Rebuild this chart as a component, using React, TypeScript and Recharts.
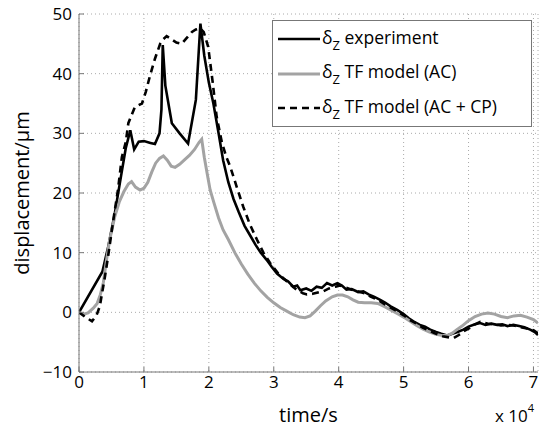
import { LineChart, Line, XAxis, YAxis, CartesianGrid, Legend } from 'recharts';

// time in units of 1e4 s, displacement in µm
const expTime = [
  0, 0.36, 0.45, 0.55, 0.65, 0.72, 0.79, 0.85, 0.92, 1.0, 1.1, 1.17, 1.24, 1.27, 1.29, 1.33,
  1.43, 1.55, 1.68, 1.8, 1.87, 1.93, 2.0, 2.07, 2.15, 2.22, 2.3, 2.38, 2.46, 2.55, 2.63, 2.72,
  2.8, 2.89, 2.97, 3.05, 3.15, 3.22, 3.3, 3.36, 3.41, 3.5, 3.58, 3.66, 3.74, 3.82, 3.9, 3.98,
  4.05, 4.12, 4.2, 4.3, 4.38, 4.46, 4.55, 4.64, 4.72, 4.8, 4.9, 5.0, 5.08, 5.15, 5.25, 5.33,
  5.41, 5.5, 5.58, 5.67, 5.75, 5.83, 5.92, 6.0, 6.1, 6.18, 6.26, 6.35, 6.44, 6.52, 6.6, 6.69,
  6.78, 6.86, 6.95, 7.02, 7.07,
];
const expDisp = [
  0, 6.8, 11, 16.5, 23, 27.5, 30.5, 27.3, 28.6, 28.7, 28.4, 28.2, 30, 34, 44.8, 38,
  31.7, 30, 28.3, 35.6, 48.4, 43, 38.5, 35, 30, 25.5, 21.8, 19, 16.8, 14.5, 13, 11.3,
  10, 8.8, 7.6, 6.5, 5.6, 5.2, 4.3, 4.5, 3.7, 4, 3.6, 4.3, 4.1, 4.9, 4.5, 4.9,
  4.5, 3.8, 3.9, 3.4, 3.5, 3.0, 2.6, 2.1, 1.6, 1.0, 0.4, -0.3, -1.0, -1.5, -2.1, -2.4,
  -2.9, -3.3, -3.6, -3.9, -3.6, -3.3, -2.9, -2.4, -2.0, -1.8, -2.1, -1.9, -2.1, -2.0, -2.3, -2.1,
  -2.3, -2.5, -2.9, -3.3, -3.8,
];

const acTime = [
  0, 0.07, 0.14, 0.22, 0.28, 0.33, 0.375, 0.42, 0.47, 0.55, 0.62, 0.69, 0.76, 0.81, 0.87, 0.94,
  1.0, 1.06, 1.12, 1.18, 1.24, 1.3, 1.36, 1.42, 1.48, 1.55, 1.62, 1.7, 1.78, 1.85, 1.89, 1.93,
  1.97, 2.02, 2.08, 2.15, 2.22, 2.3, 2.4, 2.5, 2.6, 2.7, 2.8, 2.9, 3.0, 3.1, 3.2, 3.3,
  3.4, 3.48, 3.56, 3.64, 3.72, 3.8, 3.9, 3.98, 4.06, 4.14, 4.22, 4.3, 4.4, 4.5, 4.6, 4.7,
  4.8, 4.9, 5.0, 5.1, 5.2, 5.3, 5.4, 5.5, 5.6, 5.67, 5.75, 5.82, 5.9, 6.0, 6.1, 6.2,
  6.3, 6.4, 6.5, 6.6, 6.7, 6.8, 6.9, 7.0, 7.07,
];
const acDisp = [
  0, -0.3, -0.1, 0.7, 1.5, 3, 5, 8.5, 12, 16, 18.5, 20.2, 21.5, 21.9, 21, 20.5,
  20.8, 21.8, 23.5, 25, 25.8, 26.2, 25.5, 24.5, 24.3, 24.8, 25.5, 26.3, 27.3, 28.5, 29, 26,
  23.5, 20.5, 18.3, 15.8, 13.8, 12.2, 10, 8.1, 6.4, 4.9, 3.6, 2.5, 1.6, 0.8, 0.2, -0.4,
  -0.8, -0.9, -0.6, 0.2, 1.1, 1.9, 2.6, 2.9, 2.9, 2.6, 2.1, 1.7, 1.6, 1.6, 1.5, 1.0,
  0.4, -0.2, -0.8, -1.5, -2.2, -2.8, -3.3, -3.7, -3.9, -3.9, -3.5, -2.9, -2.3, -1.4, -0.7, -0.3,
  -0.1, -0.3, -0.7, -0.9, -0.6, -0.5, -0.8, -1.2, -1.8,
];

const cpTime = [
  0, 0.1, 0.2, 0.27, 0.32, 0.36, 0.4, 0.45, 0.5, 0.55, 0.6, 0.66, 0.72, 0.76, 0.86, 0.97,
  1.03, 1.09, 1.17, 1.25, 1.3, 1.35, 1.42, 1.5, 1.58, 1.66, 1.74, 1.8, 1.86, 1.92, 1.99, 2.06,
  2.12, 2.2, 2.27, 2.33, 2.43, 2.53, 2.63, 2.74, 2.84, 2.94, 3.07, 3.2, 3.35, 3.45, 3.51, 3.6,
  3.7, 3.76, 3.85, 3.95, 4.02, 4.1, 4.2, 4.3, 4.4, 4.5, 4.6, 4.7, 4.8, 4.9, 5.0, 5.1,
  5.2, 5.3, 5.4, 5.5, 5.6, 5.7, 5.77, 5.85, 5.92, 6.02, 6.1, 6.18, 6.3, 6.4, 6.5, 6.6,
  6.7, 6.8, 6.9, 7.0, 7.07,
];
const cpDisp = [
  0, -0.8, -1.5, -0.5, 1, 3.5, 6, 9.5, 13.3, 17, 20.5, 26, 28.5, 31.7, 34.4, 35,
  37, 39.5, 42.5, 45, 45.8, 46.3, 45.8, 45.2, 45, 46, 47, 47.4, 47.6, 47, 44.5, 38.5,
  32.8, 28.5, 26, 24.4, 21, 17.7, 14.8, 12.2, 10, 8.3, 6.5, 5.2, 3.8, 3.2, 3.0, 3.1,
  3.4, 3.5, 4.0, 4.3, 4.5, 4.2, 3.8, 3.5, 3.2, 2.6, 2.1, 1.4, 0.8, 0.2, -0.5, -1.3,
  -1.9, -2.6, -3.1, -3.6, -4.0, -4.2, -4.3, -3.8, -3.2, -2.6, -2.0, -1.6, -1.9, -2.0, -2.2, -2.1,
  -2.2, -2.5, -2.7, -3.0, -3.5,
];

const xTicks = [0, 1, 2, 3, 4, 5, 6, 7];
const yTicks = [-10, 0, 10, 20, 30, 40, 50];
const xMax = 7.07;

const toPoints = (ts: number[], vs: number[]) => ts.map((t, i) => ({ t: t * 1e4, v: vs[i] }));

const expData = toPoints(expTime, expDisp);
const acData = toPoints(acTime, acDisp);
const cpData = toPoints(cpTime, cpDisp);

const series = [
  { name: 'experiment', color: '#000', width: 2.6, dash: undefined as string | undefined, data: expData },
  { name: 'TF model (AC)', color: '#a3a3a3', width: 3, dash: undefined, data: acData },
  { name: 'TF model (AC + CP)', color: '#000', width: 2.6, dash: '7 5', data: cpData },
];

const FONT = '"Open Sans", sans-serif';
const AXIS = '#777';

function LegendBox() {
  return (
    <div
      style={{
        width: 260,
        height: 107,
        border: `1px solid ${AXIS}`,
        background: '#fff',
        boxSizing: 'border-box',
        padding: '1px 0 0 5px',
        fontFamily: FONT,
        fontSize: 17.5,
        color: '#000',
      }}
    >
      {series.map((s) => (
        <div key={s.name} style={{ display: 'flex', alignItems: 'center', height: 34.5, whiteSpace: 'nowrap' }}>
          <svg width={42} height={10} style={{ marginRight: 2 }}>
            <line x1={0} y1={5} x2={42} y2={5} stroke={s.color} strokeWidth={s.width} strokeDasharray={s.dash} />
          </svg>
          <span>
            δ<sub style={{ fontSize: 13, verticalAlign: -6 }}>Z</sub> {s.name}
          </span>
        </div>
      ))}
    </div>
  );
}

export default function App() {
  return (
    <div style={{ position: 'absolute', left: 0, top: 0, width: 539, height: 434, background: '#fff', fontFamily: FONT }}>
      <LineChart width={539} height={434} margin={{ top: 14, right: 1, bottom: 0, left: 0 }}>
        <CartesianGrid stroke="#aaa" strokeDasharray="1 3" />
        <XAxis
          dataKey="t"
          type="number"
          domain={[0, xMax * 1e4]}
          allowDataOverflow
          ticks={xTicks.map((t) => t * 1e4)}
          tickFormatter={(v: number) => String(v / 1e4)}
          height={62}
          stroke={AXIS}
          tickSize={-5}
          tickMargin={9}
          tick={{ fill: '#000', fontSize: 17 }}
          label={{ value: 'time/s', position: 'insideBottom', offset: 12, fill: '#000', fontSize: 20 }}
        />
        <XAxis
          xAxisId="top"
          orientation="top"
          dataKey="t"
          type="number"
          domain={[0, xMax * 1e4]}
          allowDataOverflow
          ticks={xTicks.map((t) => t * 1e4)}
          height={0}
          stroke={AXIS}
          tickSize={-5}
          tick={false}
        />
        <YAxis
          type="number"
          domain={[-10, 50]}
          allowDataOverflow
          ticks={yTicks}
          tickFormatter={(v: number) => (v < 0 ? `\u2212${-v}` : String(v))}
          width={79}
          stroke={AXIS}
          tickSize={-5}
          tickMargin={12}
          tick={{ fill: '#000', fontSize: 17 }}
          label={{ value: 'displacement/µm', angle: -90, position: 'insideLeft', offset: 22, fill: '#000', fontSize: 20, style: { textAnchor: 'middle' } }}
        />
        <YAxis
          yAxisId="right"
          orientation="right"
          type="number"
          domain={[-10, 50]}
          allowDataOverflow
          ticks={yTicks}
          width={0}
          stroke={AXIS}
          tickSize={-5}
          tick={false}
        />
        <Legend
          layout="horizontal"
          verticalAlign="middle"
          align="center"
          wrapperStyle={{ position: 'absolute', left: 272, top: 20, width: 260, height: 107 }}
          content={() => <LegendBox />}
        />
        {series.map((s) => (
          <Line
            key={s.name}
            data={s.data}
            dataKey="v"
            name={s.name}
            type="linear"
            stroke={s.color}
            strokeWidth={s.width}
            strokeDasharray={s.dash}
            dot={false}
            isAnimationActive={false}
          />
        ))}
      </LineChart>
      <div style={{ position: 'absolute', left: 495, top: 400, fontSize: 17, color: '#000', whiteSpace: 'nowrap' }}>
        x 10<sup style={{ fontSize: 11, verticalAlign: 10 }}>4</sup>
      </div>
    </div>
  );
}
